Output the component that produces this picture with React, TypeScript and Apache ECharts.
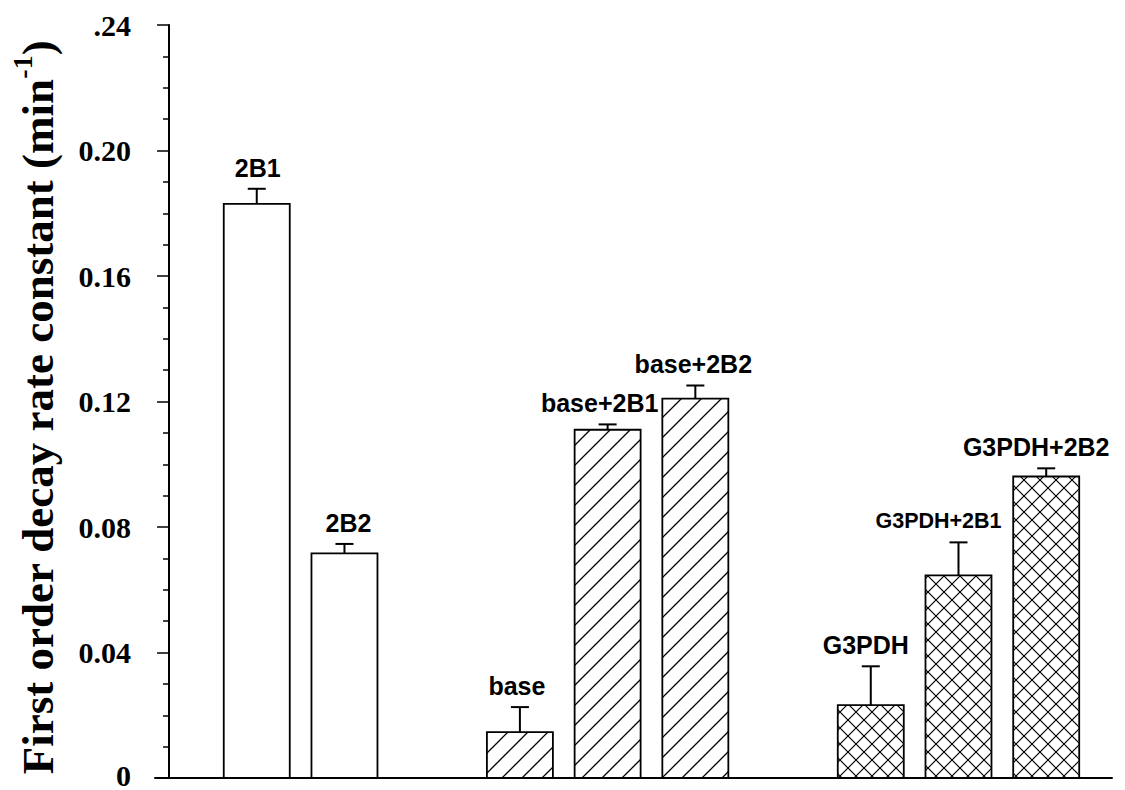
import React, { useEffect, useRef } from 'react';
import * as echarts from 'echarts';

// ---- data ----
const categories = ['2B1', '2B2', 'base', 'base+2B1', 'base+2B2', 'G3PDH', 'G3PDH+2B1', 'G3PDH+2B2'];
const slots = [1, 2, 4, 5, 6, 8, 9, 10];
const values = [0.183, 0.0716, 0.0146, 0.111, 0.1209, 0.0232, 0.0646, 0.0961];
const upperErrors = [0.0048, 0.003, 0.008, 0.0017, 0.0042, 0.0124, 0.0105, 0.0026];
const groupOf = ['open', 'open', 'hatch', 'hatch', 'hatch', 'cross', 'cross', 'cross'];
const yTickLabels = ['0', '0.04', '0.08', '0.12', '0.16', '0.20', '.24'];

// ---- label layout (style) ----
const labelDx = [1, 4, -3, -8, -2, -5, -20, -10];
const labelFontSize = [25, 25, 25, 25, 25, 25, 21.5, 25];

function svgUrl(svg: string) {
  return 'data:image/svg+xml;charset=utf-8,' + encodeURIComponent(svg);
}

const hatchSvg =
  "<svg xmlns='http://www.w3.org/2000/svg' width='20' height='20'>" +
  "<rect width='20' height='20' fill='white'/>" +
  "<path d='M-5,5 L5,-5 M0,20 L20,0 M15,25 L25,15' stroke='black' stroke-width='1.3' fill='none'/></svg>";
const crossSvg =
  "<svg xmlns='http://www.w3.org/2000/svg' width='16' height='16'>" +
  "<rect width='16' height='16' fill='white'/>" +
  "<path d='M0,16 L16,0 M-4,4 L4,-4 M12,20 L20,12 M0,0 L16,16 M-4,12 L4,20 M12,-4 L20,4' stroke='black' stroke-width='1.2' fill='none'/></svg>";

const fills: Record<string, any> = {
  open: '#ffffff',
  hatch: { image: svgUrl(hatchSvg), repeat: 'repeat', imageWidth: 20, imageHeight: 20 },
  cross: { image: svgUrl(crossSvg), repeat: 'repeat', imageWidth: 16, imageHeight: 16 },
};

const BAR_W = 66;

export default function App() {
  const ref = useRef<HTMLDivElement>(null);
  useEffect(() => {
    const chart = echarts.init(ref.current!, null, { renderer: 'svg' });
    const serif = '"Liberation Serif", "Times New Roman", serif';
    const sans = '"Liberation Sans", Arial, sans-serif';
    const option: any = {
      animation: false,
      backgroundColor: '#ffffff',
      grid: { left: 153, top: 25, width: 959, height: 754, containLabel: false },
      xAxis: {
        type: 'value',
        min: -0.16,
        max: 10.75,
        axisLine: { show: true, onZero: true, lineStyle: { color: '#000', width: 2 } },
        axisTick: { show: false },
        axisLabel: { show: false },
        splitLine: { show: false },
      },
      yAxis: {
        type: 'value',
        min: 0,
        max: 0.24,
        interval: 0.04,
        axisLine: { show: true, onZero: true, lineStyle: { color: '#000', width: 2 } },
        axisTick: { show: true, length: 12, lineStyle: { color: '#000', width: 1.5 } },
        minorTick: { show: true, splitNumber: 4, length: 6, lineStyle: { color: '#000', width: 1.5 } },
        splitLine: { show: false },
        minorSplitLine: { show: false },
        axisLabel: {
          margin: 24,
          color: '#000',
          fontFamily: serif,
          fontWeight: 'bold',
          fontSize: 30,
          formatter: (v: number) => {
            const k = Math.round(v / 0.04);
            return k === 0 ? '{z|' + yTickLabels[k] + '}' : yTickLabels[k];
          },
          rich: {
            z: { fontFamily: serif, fontWeight: 'bold', fontSize: 30, color: '#000', padding: [0, 0, 6, 0] },
          },
        },
        name: '{t|First order decay rate constant (min}{s|-1}{t|)}',
        nameLocation: 'middle',
        nameRotate: 90,
        nameGap: 95,
        nameTextStyle: {
          color: '#000',
          fontFamily: serif,
          fontWeight: 'bold',
          fontSize: 45,
          padding: [0, 12, 0, 0],
          rich: {
            t: { fontFamily: serif, fontWeight: 'bold', fontSize: 45, color: '#000', lineHeight: 52, verticalAlign: 'bottom' },
            s: { fontFamily: serif, fontWeight: 'bold', fontSize: 28, color: '#000', lineHeight: 52, verticalAlign: 'top' },
          },
        },
      },
      series: [
        {
          type: 'custom',
          silent: true,
          clip: false,
          z: 2,
          data: slots.map((s, i) => [s, values[i]]),
          renderItem: (params: any, api: any) => {
            const i = params.dataIndex;
            const x = api.value(0);
            const top = api.coord([x, api.value(1)]);
            const base = api.coord([x, 0]);
            return {
              type: 'rect',
              shape: { x: top[0] - BAR_W / 2, y: top[1], width: BAR_W, height: base[1] - top[1] },
              style: { fill: fills[groupOf[i]], stroke: '#000', lineWidth: 1.8 },
            };
          },
        },
        {
          type: 'custom',
          silent: true,
          clip: false,
          z: 3,
          data: slots.map((s, i) => [s, values[i], values[i] + upperErrors[i]]),
          renderItem: (params: any, api: any) => {
            const i = params.dataIndex;
            const x = api.value(0);
            const p0 = api.coord([x, api.value(1)]);
            const p1 = api.coord([x, api.value(2)]);
            return {
              type: 'group',
              children: [
                { type: 'line', shape: { x1: p0[0], y1: p0[1], x2: p1[0], y2: p1[1] }, style: { stroke: '#000', lineWidth: 2 } },
                { type: 'line', shape: { x1: p1[0] - 9, y1: p1[1], x2: p1[0] + 9, y2: p1[1] }, style: { stroke: '#000', lineWidth: 2 } },
                {
                  type: 'text',
                  x: p1[0] + labelDx[i],
                  y: p1[1] - 21,
                  style: {
                    text: categories[i],
                    fontFamily: sans,
                    fontWeight: 'bold',
                    fontSize: labelFontSize[i],
                    fill: '#000',
                    align: 'center',
                    verticalAlign: 'middle',
                  },
                },
              ],
            };
          },
        },
      ],
    };
    chart.setOption(option);
    return () => chart.dispose();
  }, []);
  return (
    <div
      ref={ref}
      style={{ position: 'fixed', left: 0, top: 0, width: 1125, height: 790, background: '#fff' }}
    />
  );
}
